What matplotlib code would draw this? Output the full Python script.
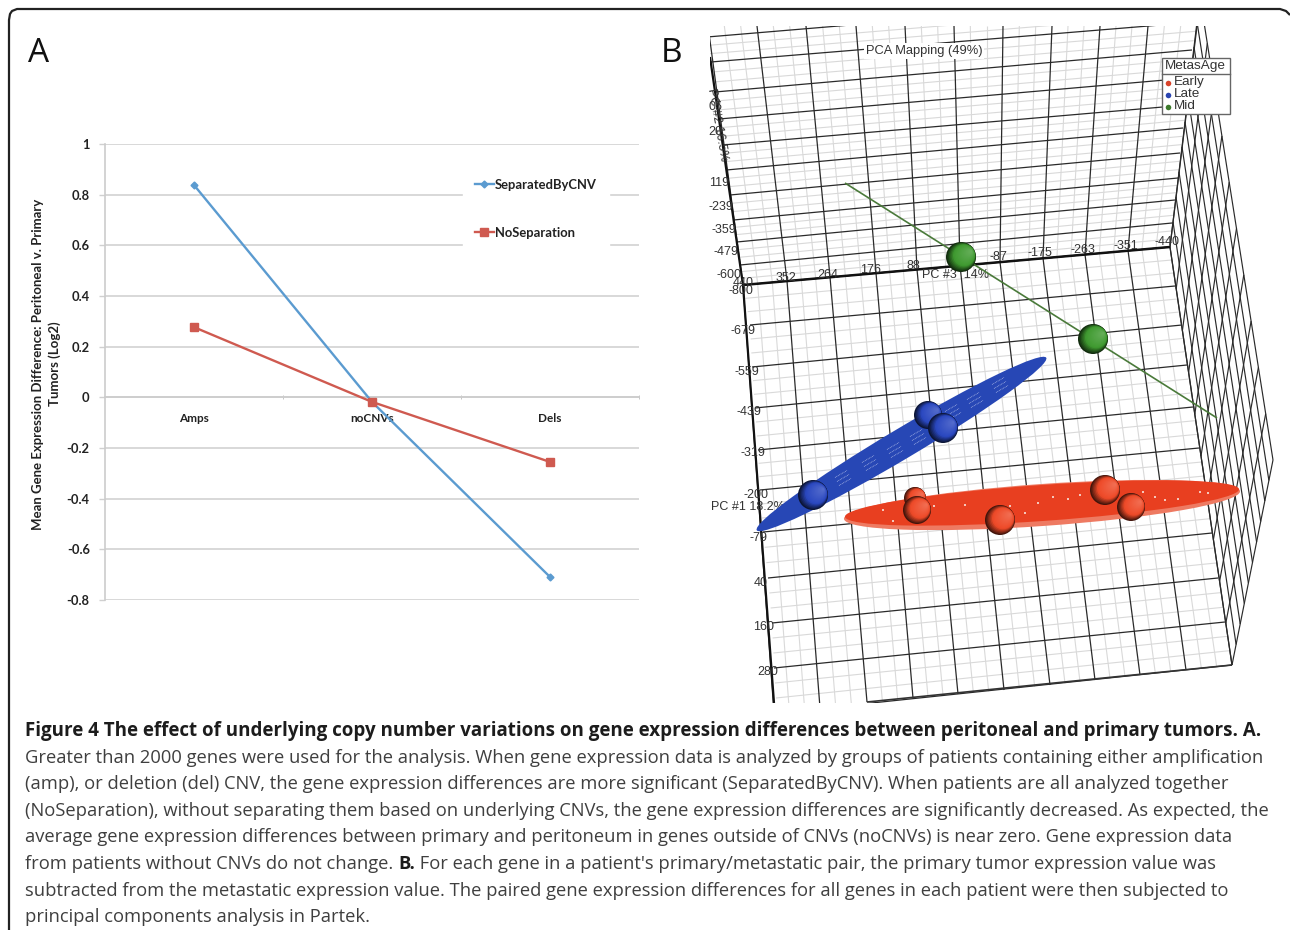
import numpy as np
import matplotlib
matplotlib.use('Agg')
import matplotlib.pyplot as plt
from matplotlib.patches import Ellipse, Circle, Rectangle
from matplotlib.colors import to_rgb

# Panel A values
categories = ['Amps', 'noCNVs', 'Dels']
separated = [0.838, -0.018, -0.709]
no_separation = [0.277, -0.018, -0.255]
y_ticks = [1, 0.8, 0.6, 0.4, 0.2, 0, -0.2, -0.4, -0.6, -0.8]
y_tick_labels = ['1', '0.8', '0.6', '0.4', '0.2', '0', '-0.2', '-0.4', '-0.6', '-0.8']

# Panel B: everything below is read in picture pixels
pc3_ticks = ['352', '264', '176', '88', '-87', '-175', '-263', '-351', '-440']
pc3_x = [786, 828, 871, 913, 998, 1040, 1083, 1126, 1167]
pc3_y = [278, 275, 270, 266, 257, 253, 250, 246, 242]
pc2_ticks = ['05', '20', '119', '-239', '-359', '-479', '-600', '-800', '440', '-679', '-559',
             '-439', '-319', '-200', '-79', '40', '160', '280']
pc2_x = [715, 715, 719, 721, 724, 726, 729, 741, 743, 743, 747, 749, 753, 756, 758, 761, 764, 768]
pc2_y = [107, 132, 183, 207, 230, 252, 275, 291, 283, 331, 372, 412, 453, 495, 538, 583, 627, 672]

# wall rails
up_vert_top = [708, 757, 806, 856, 905, 954, 1003, 1052, 1100, 1148, 1197]
up_vert_bot_x = [743, 787, 830, 876, 917, 960, 1000, 1043, 1085, 1128, 1170]
up_vert_bot_y = [285, 281, 277, 273, 269.5, 265, 262, 258, 254.5, 250.5, 247]
up_horiz_left = [37, 62, 92, 119, 145, 170, 195, 220, 242, 265, 285]
up_horiz_right = [-4, 22, 50, 78, 105, 128, 153, 178, 200, 223, 247]
up_horiz_rx = [1197, 1197, 1192, 1188, 1186, 1183, 1180, 1178, 1175, 1172, 1170]
low_vert_bot_x = [774, 820, 867, 913, 958, 1004, 1050, 1095, 1140, 1186, 1232]
low_vert_bot_y = [713, 708, 702, 698, 694, 690, 685, 680, 675, 670, 665]
low_left_x = [743, 750, 752, 755, 758, 760, 763, 768, 772, 774, 777]
low_left_y = [285, 325, 367, 408, 450, 490, 532, 578, 623, 668, 713]
low_right_x = [1170, 1175, 1182, 1187, 1193, 1199, 1207, 1212, 1218, 1225, 1232]
low_right_y = [247, 286, 325, 365, 407, 448, 490, 533, 578, 622, 665]

# metastasis groups
early_x = [915, 917, 1000, 1105, 1131]
early_y = [498, 510, 520, 490, 507]
early_r = [11, 14, 15, 15, 14]
late_x = [813, 928, 943]
late_y = [495, 415, 428]
late_r = [15, 14, 15]
mid_x = [961, 1093]
mid_y = [257, 339]
mid_r = [15, 15]

legend_names = ['Early', 'Late', 'Mid']
legend_colors = ['#d8432a', '#2a44b0', '#3d7a2c']

caption = [
    "Greater than 2000 genes were used for the analysis. When gene expression data is analyzed by groups of patients containing either amplification",
    "(amp), or deletion (del) CNV, the gene expression differences are more significant (SeparatedByCNV). When patients are all analyzed together",
    "(NoSeparation), without separating them based on underlying CNVs, the gene expression differences are significantly decreased. As expected, the",
    "average gene expression differences between primary and peritoneum in genes outside of CNVs (noCNVs) is near zero. Gene expression data",
]
caption_tail = [
    "subtracted from the metastatic expression value. The paired gene expression differences for all genes in each patient were then subjected to",
    "principal components analysis in Partek.",
]

W, H = 1290, 930
fig = plt.figure(figsize=(W / 100, H / 100), dpi=100)

# page layer in pixels
pg = fig.add_axes([0, 0, 1, 1])
pg.set_xlim(0, W)
pg.set_ylim(H, 0)
pg.axis('off')

# frame of the figure box, open at the bottom
frame_x = [9, 9, 10, 12, 17, 1280, 1286, 1290]
frame_y = [930, 20, 14, 11, 9, 9, 11, 15]
pg.plot(frame_x, frame_y, color='#222222', lw=1.6, solid_capstyle='butt')

pg.text(39, 54, 'A', fontsize=24, family='Open Sans', ha='center', va='center', color='#111111')
pg.text(672, 54, 'B', fontsize=24, family='Open Sans', ha='center', va='center', color='#111111')

# ---- Panel A
ax = fig.add_axes([105 / W, 1 - 600 / H, 534 / W, 456 / H])
ax.patch.set_alpha(0)
# moving the spine resets the ticks, so do it first
for side in ['top', 'right']:
    ax.spines[side].set_visible(False)
ax.spines['left'].set_color('#cccccc')
ax.spines['left'].set_linewidth(1.2)
ax.spines['bottom'].set_position(('data', 0))
ax.spines['bottom'].set_color('#cccccc')
ax.spines['bottom'].set_linewidth(1.2)
ax.plot(range(3), separated, color='#5b9bd0', lw=1.7, marker='D', ms=3.5, label='SeparatedByCNV', zorder=4)
ax.plot(range(3), no_separation, color='#cf5a50', lw=1.7, marker='s', ms=5.5, label='NoSeparation', zorder=5)
ax.set_xlim(-0.5, 2.5)
ax.set_ylim(-0.8, 1)
ax.set_yticks(y_ticks)
ax.set_yticklabels(y_tick_labels, fontsize=9.3, fontweight='bold', family='Lato', color='#222222')
ax.set_xticks(range(3))
ax.set_xticklabels(categories, fontsize=8.5, fontweight='bold', family='Lato', color='#222222')
ax.set_xticks([0.5, 1.5, 2.5], minor=True)
ax.tick_params(axis='x', which='major', length=0, pad=11)
ax.tick_params(axis='x', which='minor', length=3, color='#bbbbbb', direction='inout')
ax.tick_params(axis='y', length=4, color='#d0d0d0', width=1, pad=7)
ax.grid(axis='y', color='#d2d2d2', lw=1.2)
ax.set_axisbelow(True)
fig.text(46.5 / W, 1 - 364 / H, 'Mean Gene Expression Difference: Peritoneal v. Primary\nTumors (Log2)',
         rotation=90, ha='center', va='center', fontsize=9.5, fontweight='bold',
         family='Lato', color='#222222', linespacing=1.4)
leg = ax.legend(loc='upper left', bbox_to_anchor=((463 - 105) / 534, (600 - 167) / 456), borderaxespad=0,
                frameon=True, fancybox=False, edgecolor='white', facecolor='white', framealpha=1,
                handlelength=1.45, handletextpad=0.1, labelspacing=2.75, borderpad=0.9,
                prop={'family': 'Lato', 'weight': 'bold', 'size': 9.4})
for t in leg.get_texts():
    t.set_color('#222222')

# ---- Panel B
clip = Rectangle((710, 26), 580, 677, transform=pg.transData)


def seg(x0, y0, x1, y1, color='#222222', lw=0.9, z=1):
    ln, = pg.plot([x0, x1], [y0, y1], color=color, lw=lw, zorder=z, solid_capstyle='butt')
    ln.set_clip_path(clip)
    return ln


def rails(ax0, ay0, ax1, ay1, n_sub=3, major='#2a2a2a', minor='#d9d9d9'):
    # lines between two rails, with lighter lines between the heavy ones
    for i in range(len(ax0) - 1):
        for k in range(1, n_sub):
            f = k / n_sub
            seg(ax0[i] + (ax0[i + 1] - ax0[i]) * f, ay0[i] + (ay0[i + 1] - ay0[i]) * f,
                ax1[i] + (ax1[i + 1] - ax1[i]) * f, ay1[i] + (ay1[i + 1] - ay1[i]) * f,
                color=minor, lw=0.8, z=1)
    for i in range(len(ax0)):
        seg(ax0[i], ay0[i], ax1[i], ay1[i], color=major, lw=0.9, z=2)


# upper wall
rails(up_vert_top, [26] * 11, up_vert_bot_x, up_vert_bot_y)
up_lx = [710 + (y - 57) * 33 / 228 for y in up_horiz_left]
rails(up_lx, up_horiz_left, up_horiz_rx, up_horiz_right)
# lower wall
rails(up_vert_bot_x, up_vert_bot_y, low_vert_bot_x, low_vert_bot_y)
rails(low_left_x, low_left_y, low_right_x, low_right_y)

# side wall, seen edge on
near = np.array([[1170, 247], [1232, 665]], float)
far = np.array([[1200, -3], [1273, 460]], float)
n_side = 10
for i in range(n_side + 1):
    f = i / n_side
    a = near[0] + (far[0] - near[0]) * f
    b = near[1] + (far[1] - near[1]) * f
    seg(a[0], a[1], b[0], b[1], lw=0.85, color='#2a2a2a', z=2)
    c = near[0] + (near[1] - near[0]) * f
    d = far[0] + (far[1] - far[0]) * f
    seg(c[0], c[1], d[0], d[1], lw=0.85, color='#2a2a2a', z=2)

# heavy axes
seg(743, 285, 1170, 247, lw=1.8, color='#111111', z=3)
seg(710, 57, 743, 285, lw=1.6, color='#111111', z=3)
seg(743, 285, 774, 703, lw=1.6, color='#111111', z=3)
seg(867, 702, 1232, 665, lw=1.2, color='#333333', z=3)

# tick labels
lab_kw = dict(fontsize=9, family='Liberation Sans', color='#333333', ha='center', va='center', zorder=4)
for s, x, y in zip(pc3_ticks, pc3_x, pc3_y):
    pg.text(x, y, s, **lab_kw)
for s, x, y in zip(pc2_ticks, pc2_x, pc2_y):
    pg.text(x, y, s, **lab_kw)
pg.text(955, 275, 'PC #3  14%', **lab_kw)
pg.text(748, 507, 'PC #1 18.2%', **lab_kw)
pg.text(717, 125, 'PC #2 16.5%', rotation=-80, **lab_kw)
pg.text(924, 51, 'PCA Mapping (49%)', fontsize=9.3, family='Liberation Sans', color='#333333',
        ha='center', va='center', zorder=6,
        bbox=dict(facecolor='white', edgecolor='none', pad=1.5))

# green trend line
seg(845, 183, 1217, 418, color='#4a7a3a', lw=1.2, z=5)

# ellipsoids
pg.add_patch(Ellipse((901.5, 444), 337, 30, angle=-30.8, facecolor='#2747b5', edgecolor='none', zorder=6))
pg.add_patch(Ellipse((1042, 505), 397, 42, angle=-4, facecolor='#ee7a62', edgecolor='none', zorder=6))
pg.add_patch(Ellipse((1042, 503), 395, 36, angle=-4, facecolor='#e83f20', edgecolor='none', zorder=6))


def shade(color, t):
    base = np.array(to_rgb(color))
    # t=1 at the rim, t=0 at the highlight
    if t > 0.72:
        return tuple(base * (1 - (t - 0.72) * 2.6))
    return tuple(base + (1 - base) * (0.72 - t) * 0.3)


def sphere(x, y, r, color, z):
    for t in np.linspace(1, 0.08, 18):
        off = (1 - t) * r
        pg.add_patch(Circle((x + off * 0.72, y - off * 0.4), r * t, facecolor=shade(color, t),
                            edgecolor='none', zorder=z))


for x, y, r in zip(late_x, late_y, late_r):
    sphere(x, y, r, '#2a48c0', 7)
for x, y, r in zip(early_x, early_y, early_r):
    sphere(x, y, r, '#ee4a28', 7)
for x, y, r in zip(mid_x, mid_y, mid_r):
    sphere(x, y, r, '#3f9a30', 7)

# light speckles on the ellipsoids
blue_spots_x = [843, 870, 895, 918, 953, 975, 1000]
blue_spots_y = [478, 463, 450, 437, 412, 400, 385]
for x, y in zip(blue_spots_x, blue_spots_y):
    for d in (-4, 0, 4):
        pg.plot([x - 6 + d * 0.5, x + 6 + d * 0.5], [y + 3.5 + d, y - 3.5 + d], color='#a9b6e6',
                lw=0.6, ls=(0, (1, 1)), zorder=6.5)
red_spots_x = [883, 893, 934, 965, 1010, 1025, 1038, 1053, 1068, 1080, 1143, 1155, 1165, 1178, 1200, 1208]
red_spots_y = [510, 521, 506, 505, 506, 513, 503, 497, 499, 495, 492, 497, 500, 499, 492, 493]
pg.scatter(red_spots_x, red_spots_y, s=3, marker='s', color='#f5c6ba', linewidths=0, zorder=6.5)

# legend of panel B
pg.add_patch(Rectangle((1162, 58), 68, 56, facecolor='white', edgecolor='#666666', lw=1, zorder=8))
pg.plot([1162, 1230], [74, 74], color='#666666', lw=1, zorder=9)
pg.text(1165, 66, 'MetasAge', fontsize=9.7, family='Liberation Sans', color='#333333', va='center', zorder=9)
for name, col, y in zip(legend_names, legend_colors, [83, 95, 107]):
    pg.scatter([1168], [y], s=16, color=col, linewidths=0, zorder=9)
    pg.text(1174, y - 1, name, fontsize=9.7, family='Liberation Sans', color='#333333', va='center', zorder=9)

# ---- caption
cap_kw = dict(family='Open Sans', fontsize=13.25, color='#3f3f3f', va='center')
pg.text(25, 731, 'Figure 4 The effect of underlying copy number variations on gene expression differences '
        'between peritoneal and primary tumors. A.', family='Open Sans', fontsize=13.5, fontweight='bold',
        color='#1c1c1c', va='center')
for line, y in zip(caption, [758, 784, 811, 837]):
    pg.text(25, y, line, **cap_kw)

# line with a bold B. in it
rend = fig.canvas.get_renderer()
x_pos = 25
for part, wt in [('from patients without CNVs do not change. ', 'normal'), ('B.', 'bold'),
                 (" For each gene in a patient's primary/metastatic pair, the primary tumor expression value was", 'normal')]:
    kw = dict(cap_kw)
    if wt == 'bold':
        kw['color'] = '#1c1c1c'
    tx = pg.text(x_pos, 864, part.replace(' ', '\u00a0'), fontweight=wt, **kw)
    x_pos += tx.get_window_extent(rend).width

for line, y in zip(caption_tail, [891, 917]):
    pg.text(25, y, line, **cap_kw)

fig.savefig('out.png', dpi=100)
